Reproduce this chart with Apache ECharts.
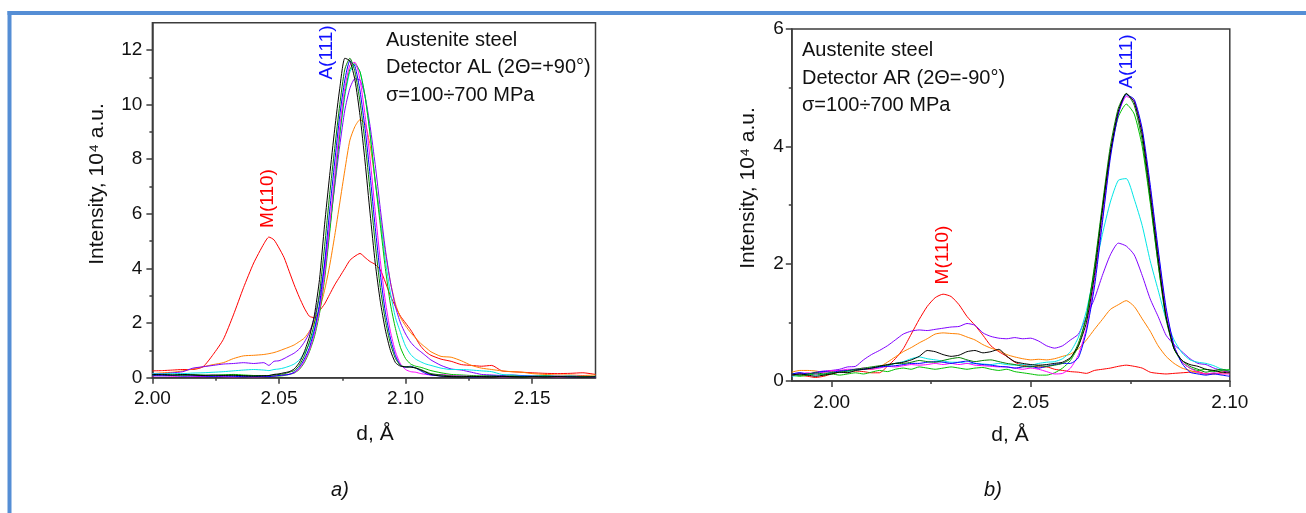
<!DOCTYPE html>
<html>
<head>
<meta charset="utf-8">
<title>Austenite steel, A(111) and M(110) peaks</title>
<script src="https://cdn.jsdelivr.net/npm/echarts@6.0.0/dist/echarts.min.js"></script>
<style>
  html, body { margin: 0; padding: 0; background: #fff; }
  #chart { width: 1306px; height: 513px; }
</style>
</head>
<body>
<div id="chart"></div>
<script>
// panel a) detector AL, d in Å, intensity in 10^4 a.u.
const dA = [
  2.000, 2.004, 2.008, 2.012, 2.016, 2.020, 2.024, 2.028, 2.032, 2.036,
  2.040, 2.044, 2.046, 2.048, 2.050, 2.052, 2.054, 2.056, 2.058, 2.060,
  2.062, 2.064, 2.066, 2.068, 2.070, 2.072, 2.074, 2.076, 2.078, 2.080,
  2.082, 2.084, 2.086, 2.088, 2.090, 2.092, 2.094, 2.096, 2.098, 2.100,
  2.102, 2.104, 2.106, 2.108, 2.110, 2.114, 2.118, 2.122, 2.126, 2.130,
  2.134, 2.138, 2.142, 2.146, 2.150, 2.155, 2.160, 2.165, 2.170, 2.175
]
const aBlack = [
  0.12, 0.11, 0.10, 0.12, 0.10, 0.08, 0.10, 0.08, 0.09, 0.07,
  0.06, 0.07, 0.08, 0.12, 0.14, 0.18, 0.22, 0.32, 0.55, 0.95,
  1.5, 2.3, 3.6, 5.6, 7.4, 9.1, 10.6, 11.7, 11.6, 10.9,
  9.6, 7.9, 6.0, 4.2, 2.8, 1.75, 1.0, 0.55, 0.42, 0.40,
  0.38, 0.36, 0.28, 0.20, 0.12, 0.06, 0.04, 0.03, 0.05, 0.04,
  0.03, 0.05, 0.04, 0.03, 0.04, 0.03, 0.04, 0.03, 0.02, 0.03
]
const aDkGreen = [
  0.10, 0.12, 0.10, 0.09, 0.11, 0.10, 0.08, 0.10, 0.09, 0.08,
  0.07, 0.08, 0.08, 0.10, 0.12, 0.14, 0.20, 0.26, 0.45, 0.80,
  1.3, 2.0, 3.1, 4.8, 6.7, 8.4, 10.0, 11.3, 11.7, 11.2,
  10.1, 8.6, 6.8, 4.9, 3.3, 2.1, 1.25, 0.70, 0.45, 0.40,
  0.40, 0.35, 0.30, 0.22, 0.15, 0.10, 0.06, 0.05, 0.04, 0.06,
  0.05, 0.04, 0.05, 0.04, 0.03, 0.05, 0.04, 0.03, 0.04, 0.03
]
const aBlue = [
  0.08, 0.07, 0.08, 0.06, 0.07, 0.06, 0.05, 0.06, 0.05, 0.04,
  0.04, 0.05, 0.04, 0.06, 0.08, 0.10, 0.12, 0.20, 0.38, 0.68,
  1.1, 1.75, 2.7, 4.2, 6.1, 7.9, 9.6, 10.9, 11.6, 11.4,
  10.5, 9.1, 7.4, 5.5, 3.8, 2.4, 1.45, 0.80, 0.45, 0.38,
  0.42, 0.35, 0.25, 0.15, 0.10, 0.06, 0.04, 0.05, 0.03, 0.04,
  0.06, 0.05, 0.04, 0.06, 0.05, 0.04, 0.05, 0.03, 0.04, 0.03
]
const aMagenta = [
  0.06, 0.07, 0.05, 0.06, 0.05, 0.04, 0.05, 0.04, 0.03, 0.04,
  0.03, 0.04, 0.05, 0.06, 0.08, 0.10, 0.13, 0.18, 0.32, 0.60,
  1.0, 1.6, 2.5, 3.8, 5.6, 7.4, 9.2, 10.6, 11.45, 11.55,
  10.9, 9.6, 8.0, 6.1, 4.3, 2.8, 1.7, 0.95, 0.50, 0.30,
  0.22, 0.20, 0.15, 0.12, 0.10, 0.12, 0.08, 0.06, 0.05, 0.04,
  0.05, 0.03, 0.04, 0.05, 0.03, 0.04, 0.03, 0.02, 0.03, 0.02
]
const aGreen = [
  0.10, 0.09, 0.08, 0.10, 0.09, 0.07, 0.08, 0.10, 0.12, 0.10,
  0.08, 0.06, 0.05, 0.06, 0.06, 0.08, 0.12, 0.17, 0.30, 0.55,
  0.95, 1.5, 2.35, 3.6, 5.3, 7.1, 8.9, 10.4, 11.3, 11.5,
  11.2, 10.3, 8.9, 7.2, 5.6, 4.0, 2.7, 1.8, 1.1, 0.70,
  0.50, 0.42, 0.38, 0.32, 0.26, 0.18, 0.12, 0.10, 0.08, 0.06,
  0.07, 0.05, 0.06, 0.04, 0.05, 0.06, 0.04, 0.05, 0.03, 0.04
]
const aCyan = [
  0.15, 0.14, 0.16, 0.15, 0.17, 0.18, 0.20, 0.22, 0.25, 0.28,
  0.30, 0.28, 0.26, 0.30, 0.32, 0.36, 0.42, 0.50, 0.65, 0.90,
  1.25, 1.8, 2.6, 3.8, 5.4, 7.2, 8.9, 10.3, 11.2, 11.45,
  11.2, 10.3, 8.9, 7.2, 5.8, 4.3, 3.1, 2.2, 1.65, 1.15,
  0.85, 0.68, 0.58, 0.50, 0.45, 0.35, 0.30, 0.30, 0.28, 0.25,
  0.22, 0.12, 0.10, 0.08, 0.06, 0.07, 0.05, 0.06, 0.04, 0.05
]
const aPurple = [
  0.15, 0.15, 0.18, 0.22, 0.35, 0.40, 0.45, 0.50, 0.52, 0.55,
  0.52, 0.55, 0.45, 0.60, 0.62, 0.70, 0.80, 0.90, 1.05, 1.3,
  1.65, 2.2, 3.0, 4.1, 5.5, 7.0, 8.5, 9.8, 10.6, 10.95,
  10.9, 10.3, 9.2, 7.8, 6.2, 4.7, 3.5, 2.6, 2.0, 1.6,
  1.3, 1.1, 0.95, 0.80, 0.65, 0.45, 0.32, 0.28, 0.20, 0.12,
  0.10, 0.08, 0.10, 0.07, 0.06, 0.08, 0.05, 0.06, 0.05, 0.04
]
const aOrange = [
  0.15, 0.18, 0.20, 0.25, 0.32, 0.40, 0.48, 0.55, 0.70, 0.80,
  0.82, 0.85, 0.88, 0.92, 0.98, 1.05, 1.12, 1.2, 1.32, 1.45,
  1.7, 2.05, 2.5, 3.2, 4.1, 5.2, 6.4, 7.6, 8.7, 9.2,
  9.45, 9.3, 8.5, 7.2, 5.9, 4.6, 3.5, 2.7, 2.2, 1.9,
  1.65, 1.45, 1.25, 1.1, 0.95, 0.78, 0.75, 0.62, 0.45, 0.35,
  0.30, 0.25, 0.22, 0.20, 0.15, 0.12, 0.10, 0.10, 0.08, 0.10
]
const aRed = [
  0.25, 0.26, 0.28, 0.30, 0.30, 0.40, 0.85, 1.4, 2.3, 3.3,
  4.2, 4.9, 5.15, 5.05, 4.75, 4.4, 3.9, 3.4, 2.95, 2.55,
  2.25, 2.2, 2.45, 2.7, 3.05, 3.4, 3.7, 4.0, 4.3, 4.45,
  4.55, 4.4, 4.25, 4.15, 3.95, 3.5, 3.0, 2.6, 2.25, 2.0,
  1.75, 1.45, 1.15, 0.95, 0.82, 0.68, 0.60, 0.48, 0.45, 0.42,
  0.45, 0.25, 0.22, 0.20, 0.18, 0.16, 0.15, 0.16, 0.18, 0.12
]

// panel b) detector AR
const dB = [
  1.990, 1.992, 1.994, 1.996, 1.998, 2.000, 2.002, 2.004, 2.006, 2.008,
  2.010, 2.012, 2.014, 2.016, 2.018, 2.020, 2.022, 2.024, 2.026, 2.028,
  2.030, 2.032, 2.034, 2.036, 2.038, 2.040, 2.042, 2.044, 2.046, 2.048,
  2.050, 2.052, 2.054, 2.056, 2.058, 2.060, 2.062, 2.064, 2.066, 2.068,
  2.070, 2.072, 2.074, 2.076, 2.078, 2.080, 2.082, 2.084, 2.086, 2.088,
  2.090, 2.092, 2.094, 2.096, 2.098, 2.100
]
const bBlack = [
  0.10, 0.12, 0.10, 0.08, 0.10, 0.12, 0.15, 0.14, 0.18, 0.20,
  0.22, 0.25, 0.28, 0.30, 0.32, 0.36, 0.42, 0.52, 0.50, 0.45,
  0.42, 0.44, 0.50, 0.52, 0.48, 0.50, 0.54, 0.42, 0.33, 0.30,
  0.28, 0.27, 0.28, 0.30, 0.32, 0.40, 0.60, 1.00, 1.80, 2.90,
  3.90, 4.60, 4.90, 4.75, 4.20, 3.20, 2.10, 1.10, 0.55, 0.35,
  0.28, 0.25, 0.20, 0.18, 0.15, 0.14
]
const bDkGreen = [
  0.12, 0.10, 0.12, 0.14, 0.12, 0.14, 0.15, 0.17, 0.20, 0.22,
  0.24, 0.26, 0.27, 0.30, 0.30, 0.32, 0.35, 0.33, 0.32, 0.35,
  0.38, 0.40, 0.36, 0.33, 0.35, 0.36, 0.33, 0.30, 0.28, 0.25,
  0.24, 0.26, 0.25, 0.27, 0.30, 0.38, 0.65, 1.10, 1.95, 3.00,
  4.00, 4.65, 4.90, 4.70, 4.10, 3.10, 2.00, 1.05, 0.55, 0.35,
  0.25, 0.20, 0.15, 0.18, 0.20, 0.16
]
const bBlue = [
  0.12, 0.14, 0.12, 0.14, 0.16, 0.15, 0.17, 0.18, 0.20, 0.20,
  0.22, 0.24, 0.25, 0.26, 0.28, 0.30, 0.30, 0.32, 0.33, 0.32,
  0.30, 0.32, 0.34, 0.30, 0.28, 0.27, 0.25, 0.24, 0.22, 0.24,
  0.25, 0.22, 0.25, 0.28, 0.30, 0.30, 0.40, 0.85, 1.60, 2.70,
  3.80, 4.55, 4.88, 4.80, 4.30, 3.35, 2.25, 1.25, 0.60, 0.30,
  0.15, 0.12, 0.10, 0.12, 0.10, 0.08
]
const bMagenta = [
  0.10, 0.12, 0.14, 0.12, 0.15, 0.18, 0.18, 0.20, 0.20, 0.22,
  0.20, 0.22, 0.25, 0.24, 0.26, 0.28, 0.27, 0.28, 0.30, 0.28,
  0.30, 0.28, 0.30, 0.27, 0.26, 0.25, 0.24, 0.24, 0.22, 0.20,
  0.22, 0.20, 0.16, 0.12, 0.13, 0.22, 0.45, 0.90, 1.70, 2.75,
  3.85, 4.55, 4.85, 4.78, 4.25, 3.30, 2.20, 1.20, 0.60, 0.32,
  0.22, 0.15, 0.12, 0.14, 0.12, 0.12
]
const bGreen = [
  0.10, 0.08, 0.10, 0.12, 0.10, 0.12, 0.10, 0.12, 0.14, 0.12,
  0.15, 0.18, 0.16, 0.20, 0.22, 0.20, 0.24, 0.22, 0.20, 0.22,
  0.24, 0.22, 0.20, 0.22, 0.23, 0.20, 0.18, 0.20, 0.16, 0.14,
  0.12, 0.10, 0.10, 0.14, 0.22, 0.35, 0.60, 1.10, 1.90, 2.95,
  3.90, 4.50, 4.72, 4.55, 4.00, 3.05, 2.00, 1.10, 0.55, 0.32,
  0.22, 0.18, 0.20, 0.16, 0.18, 0.20
]
const bCyan = [
  0.08, 0.10, 0.12, 0.10, 0.12, 0.14, 0.15, 0.16, 0.18, 0.20,
  0.22, 0.24, 0.26, 0.30, 0.33, 0.38, 0.41, 0.38, 0.36, 0.34,
  0.32, 0.32, 0.30, 0.30, 0.29, 0.28, 0.30, 0.28, 0.27, 0.28,
  0.27, 0.30, 0.32, 0.33, 0.38, 0.50, 0.75, 1.20, 1.85, 2.50,
  3.05, 3.42, 3.45, 3.10, 2.65, 2.05, 1.55, 1.05, 0.70, 0.48,
  0.36, 0.32, 0.30, 0.26, 0.20, 0.18
]
const bPurple = [
  0.12, 0.14, 0.12, 0.15, 0.17, 0.18, 0.20, 0.24, 0.25, 0.36,
  0.45, 0.52, 0.60, 0.70, 0.80, 0.85, 0.87, 0.86, 0.88, 0.90,
  0.92, 0.93, 0.98, 0.95, 0.82, 0.76, 0.73, 0.72, 0.74, 0.72,
  0.73, 0.68, 0.60, 0.56, 0.60, 0.70, 0.80, 1.10, 1.40, 1.80,
  2.15, 2.35, 2.30, 2.15, 1.80, 1.40, 1.10, 0.78, 0.62, 0.50,
  0.38, 0.30, 0.28, 0.22, 0.18, 0.15
]
const bOrange = [
  0.15, 0.18, 0.18, 0.17, 0.15, 0.16, 0.18, 0.18, 0.19, 0.20,
  0.20, 0.24, 0.32, 0.41, 0.50, 0.57, 0.65, 0.72, 0.80, 0.82,
  0.81, 0.80, 0.75, 0.70, 0.62, 0.56, 0.52, 0.45, 0.41, 0.38,
  0.36, 0.37, 0.36, 0.38, 0.42, 0.46, 0.55, 0.70, 0.88, 1.05,
  1.22, 1.30, 1.37, 1.27, 1.06, 0.85, 0.60, 0.42, 0.30, 0.22,
  0.18, 0.14, 0.12, 0.13, 0.12, 0.14
]
const bRed = [
  0.12, 0.10, 0.08, 0.06, 0.08, 0.12, 0.15, 0.15, 0.17, 0.16,
  0.14, 0.14, 0.25, 0.38, 0.55, 0.80, 1.05, 1.27, 1.42, 1.48,
  1.44, 1.30, 1.10, 0.95, 0.78, 0.60, 0.50, 0.42, 0.32, 0.27,
  0.25, 0.24, 0.24, 0.20, 0.18, 0.16, 0.15, 0.13, 0.18, 0.20,
  0.22, 0.25, 0.27, 0.25, 0.22, 0.15, 0.13, 0.12, 0.13, 0.14,
  0.15, 0.16, 0.12, 0.12, 0.15, 0.18
]

// axis ticks
const aTicksX = [2.00, 2.05, 2.10, 2.15]
const aMinorX = [2.025, 2.075, 2.125]
const aTicksY = [0, 2, 4, 6, 8, 10, 12]
const aMinorY = [1, 3, 5, 7, 9, 11]
const bTicksX = [2.00, 2.05, 2.10]
const bMinorX = [2.025, 2.075]
const bTicksY = [0, 2, 4, 6]
const bMinorY = [1, 3, 5]

const FONT = 'Liberation Sans, Arial, Helvetica, sans-serif'
const AXIS = '#3c3c3c'

const chart = echarts.init(document.getElementById('chart'), null, { renderer: 'canvas' })

function axisPair(grid, pos, min, max, major, minor, fmt, margin) {
  return [
    {
      type: 'value', gridIndex: grid, position: pos, min, max,
      axisLine: { show: true, onZero: false, lineStyle: { color: AXIS, width: 1.5 } },
      axisTick: { show: true, customValues: major, length: 6, inside: false, lineStyle: { color: AXIS, width: 1.5 } },
      axisLabel: { show: true, customValues: major, formatter: fmt, margin, color: '#111', fontSize: 19, fontFamily: FONT },
      splitLine: { show: false }
    },
    {
      type: 'value', gridIndex: grid, position: pos, min, max,
      axisLine: { show: false },
      axisTick: { show: true, customValues: minor, length: 3, inside: false, lineStyle: { color: AXIS, width: 1.5 } },
      axisLabel: { show: false },
      splitLine: { show: false }
    }
  ]
}

const fmtX = v => v.toFixed(2)
const fmtY = v => String(v)

const pairs = (xs, ys) => xs.map((x, i) => [x, ys[i]])

// drawn in this order, black ends on top
const curvesA = [
  ['#FF0000', aRed], ['#FF8000', aOrange], ['#8000FF', aPurple], ['#00E5E5', aCyan],
  ['#00C000', aGreen], ['#FF00FF', aMagenta], ['#0000FF', aBlue], ['#008000', aDkGreen], ['#000000', aBlack]
]
const curvesB = [
  ['#FF0000', bRed], ['#FF8000', bOrange], ['#8000FF', bPurple], ['#00E5E5', bCyan],
  ['#00C000', bGreen], ['#FF00FF', bMagenta], ['#0000FF', bBlue], ['#008000', bDkGreen], ['#000000', bBlack]
]

const lineSeries = (curves, xs, axisIndex) => curves.map(([color, ys]) => ({
  type: 'line',
  xAxisIndex: axisIndex,
  yAxisIndex: axisIndex,
  data: pairs(xs, ys),
  showSymbol: false,
  symbol: 'none',
  smooth: 0.2,
  silent: true,
  lineStyle: { color, width: 1 },
  itemStyle: { color }
}))

function label(x, y, text, opt = {}) {
  return {
    type: 'text',
    x, y,
    rotation: opt.rot || 0,
    silent: true,
    style: {
      text,
      fill: opt.color || '#111',
      fontSize: opt.size || 20,
      fontFamily: FONT,
      fontStyle: opt.italic ? 'italic' : 'normal',
      align: opt.align || 'center',
      textAlign: opt.align || 'center',
      verticalAlign: 'middle',
      textVerticalAlign: 'middle'
    }
  }
}

const UP = Math.PI / 2

chart.setOption({
  animation: false,
  backgroundColor: '#fff',
  grid: [
    { left: 152.4, top: 22.7, width: 443.1, height: 355, show: true, borderColor: AXIS, borderWidth: 1.5, outerBoundsMode: 'none' },
    { left: 791.8, top: 29, width: 438, height: 352, show: true, borderColor: AXIS, borderWidth: 1.5, outerBoundsMode: 'none' }
  ],
  xAxis: [
    ...axisPair(0, 'bottom', 2.0, 2.175, aTicksX, aMinorX, fmtX, 12),
    ...axisPair(1, 'bottom', 1.99, 2.10, bTicksX, bMinorX, fmtX, 12)
  ],
  yAxis: [
    ...axisPair(0, 'left', 0, 13, aTicksY, aMinorY, fmtY, 10),
    ...axisPair(1, 'left', 0, 6, bTicksY, bMinorY, fmtY, 8)
  ],
  series: [
    ...lineSeries(curvesA, dA, 0),
    ...lineSeries(curvesB, dB, 2)
  ],
  graphic: [
    // page frame
    { type: 'line', silent: true, shape: { x1: 7.5, y1: 13, x2: 1306, y2: 13 }, style: { stroke: '#558ED5', lineWidth: 4 } },
    { type: 'line', silent: true, shape: { x1: 9.5, y1: 11, x2: 9.5, y2: 513 }, style: { stroke: '#558ED5', lineWidth: 4 } },

    label(97, 184, 'Intensity, 10⁴ a.u.', { rot: UP, size: 21 }),
    label(375, 434, 'd, Å', { size: 21 }),
    label(340, 490, 'a)', { italic: true }),
    label(386, 40.5, 'Austenite steel', { align: 'left' }),
    label(386, 67.5, 'Detector AL (2Θ=+90°)', { align: 'left' }),
    label(386, 95, 'σ=100÷700 MPa', { align: 'left' }),
    label(326.5, 52.5, 'A(111)', { rot: UP, color: '#1010FF', size: 19 }),
    label(268, 198.5, 'M(110)', { rot: UP, color: '#FF0000', size: 19 }),

    label(748.5, 188, 'Intensity, 10⁴ a.u.', { rot: UP, size: 21 }),
    label(1010, 435, 'd, Å', { size: 21 }),
    label(993, 490, 'b)', { italic: true }),
    label(802, 50.5, 'Austenite steel', { align: 'left' }),
    label(802, 78, 'Detector AR (2Θ=-90°)', { align: 'left' }),
    label(802, 105, 'σ=100÷700 MPa', { align: 'left' }),
    label(1127, 61.5, 'A(111)', { rot: UP, color: '#1010FF', size: 19 }),
    label(943, 255, 'M(110)', { rot: UP, color: '#FF0000', size: 19 })
  ]
})

window.addEventListener('resize', () => chart.resize())
</script>
</body>
</html>
